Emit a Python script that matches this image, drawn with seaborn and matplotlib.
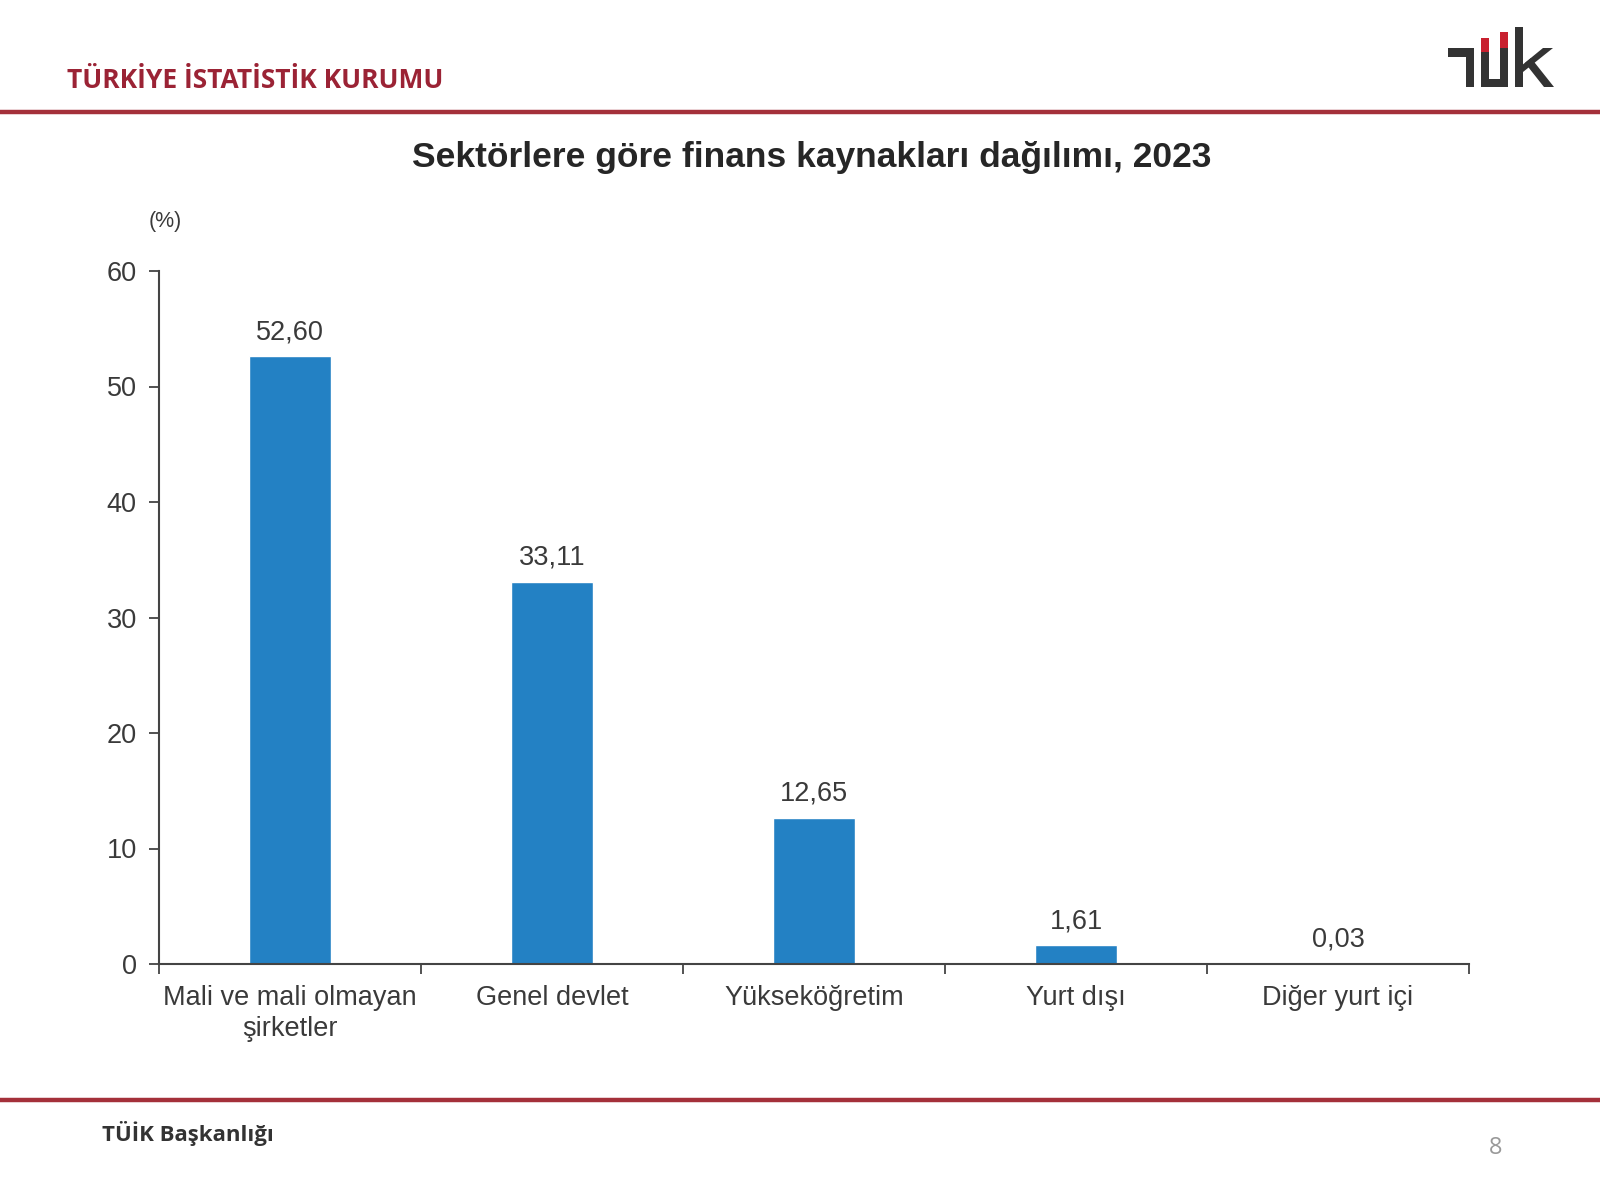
import matplotlib
matplotlib.use("Agg")
import matplotlib.pyplot as plt
import seaborn as sns
from matplotlib.patches import Rectangle, Polygon

categories = ["Mali ve mali olmayan\nşirketler", "Genel devlet", "Yükseköğretim", "Yurt dışı", "Diğer yurt içi"]
values = [52.60, 33.11, 12.65, 1.61, 0.03]
value_labels = ["52,60", "33,11", "12,65", "1,61", "0,03"]
y_ticks = [0, 10, 20, 30, 40, 50, 60]

BAR_COLOR = "#2381C4"
TEXT_COLOR = "#3a3a3a"
RED = "#A4303A"

sns.set_theme(style="white")
plt.rcParams["font.family"] = ["Liberation Sans", "DejaVu Sans"]

W, H = 1600, 1200
fig = plt.figure(figsize=(16, 12), dpi=100)
fig.patch.set_facecolor("white")


def px(x, y):
    # figure pixel coords from top-left -> figure fraction
    return x / W, 1 - y / H


# header / footer lines
for yline in (112, 1100):
    fig.add_artist(plt.Line2D([0, 1], [px(0, yline)[1]] * 2, color=RED, lw=3.2,
                              transform=fig.transFigure))

fig.text(*px(67, 80), "TÜRKİYE İSTATİSTİK KURUMU", ha="left", va="center",
         fontsize=19, fontweight="bold", color="#9B2335", family="Open Sans")
fig.text(*px(102, 1133), "TÜİK Başkanlığı", ha="left", va="center",
         fontsize=16, fontweight="bold", color="#333333", family="Open Sans")
fig.text(*px(1496, 1148), "8", ha="center", va="center",
         fontsize=17, color="#999999", family="Open Sans")

# logo
dark = "#333333"
logo = [
    ((1448, 48), (1474, 57), dark),
    ((1466, 48), (1474, 87), dark),
    ((1481, 52), (1489, 87), dark),
    ((1481, 38), (1489, 52), "#C8202F"),
    ((1500, 48), (1508, 87), dark),
    ((1500, 32), (1508, 48), "#C8202F"),
    ((1481, 79), (1508, 87), dark),
    ((1515, 27), (1523, 87), dark),
]
for (x0, y0), (x1, y1), c in logo:
    fx0, fy1 = px(x0, y0)
    fx1, fy0 = px(x1, y1)
    fig.add_artist(Rectangle((fx0, fy0), fx1 - fx0, fy1 - fy0, color=c,
                             transform=fig.transFigure, lw=0))
for pts in ([(1521, 66), (1543, 48), (1553, 48), (1523, 72)],
            [(1525, 63), (1531, 58), (1554, 87), (1544, 87)]):
    fig.add_artist(Polygon([px(*p) for p in pts], closed=True, color=dark,
                           transform=fig.transFigure, lw=0))

fig.text(*px(812, 158), "Sektörlere göre finans kaynakları dağılımı, 2023",
         ha="center", va="center", fontsize=25.5, fontweight="bold", color="#262626")
fig.text(*px(165, 221), "(%)", ha="center", va="center", fontsize=15.5, color=TEXT_COLOR)

# axes
left, top = px(159, 271)
right, bottom = px(1469, 964)
ax = fig.add_axes([left, bottom, right - left, top - bottom])

sns.barplot(x=categories, y=values, color=BAR_COLOR, width=0.31,
            saturation=1, ax=ax)
ax.bar_label(ax.containers[0], labels=value_labels, padding=8,
             fontsize=19.5, color=TEXT_COLOR)

ax.set_ylim(0, 60)
ax.set_xlim(-0.5, len(categories) - 0.5)
ax.set_yticks(y_ticks)
ax.set_yticklabels([str(t) for t in y_ticks])
ax.set_xticks(range(len(categories)))
ax.set_xticks([i - 0.5 for i in range(len(categories) + 1)], minor=True)
ax.set_xticklabels(categories)
ax.set_xlabel("")
ax.set_ylabel("")

for side in ("top", "right"):
    ax.spines[side].set_visible(False)
for side in ("left", "bottom"):
    ax.spines[side].set_color("#444444")
    ax.spines[side].set_linewidth(1.5)

ax.tick_params(axis="y", which="major", direction="out", length=7, width=1.3,
               color="#444444", labelsize=19.5, labelcolor=TEXT_COLOR, pad=9, left=True)
ax.tick_params(axis="x", which="major", length=0, labelsize=19.5,
               labelcolor=TEXT_COLOR, pad=15)
ax.tick_params(axis="x", which="minor", direction="out", length=7, width=1.3,
               color="#444444", bottom=True)
for lab in ax.get_xticklabels():
    lab.set_linespacing(1.25)
ax.grid(False)
ax.set_facecolor("white")

fig.savefig("out.png", dpi=100, facecolor="white")
